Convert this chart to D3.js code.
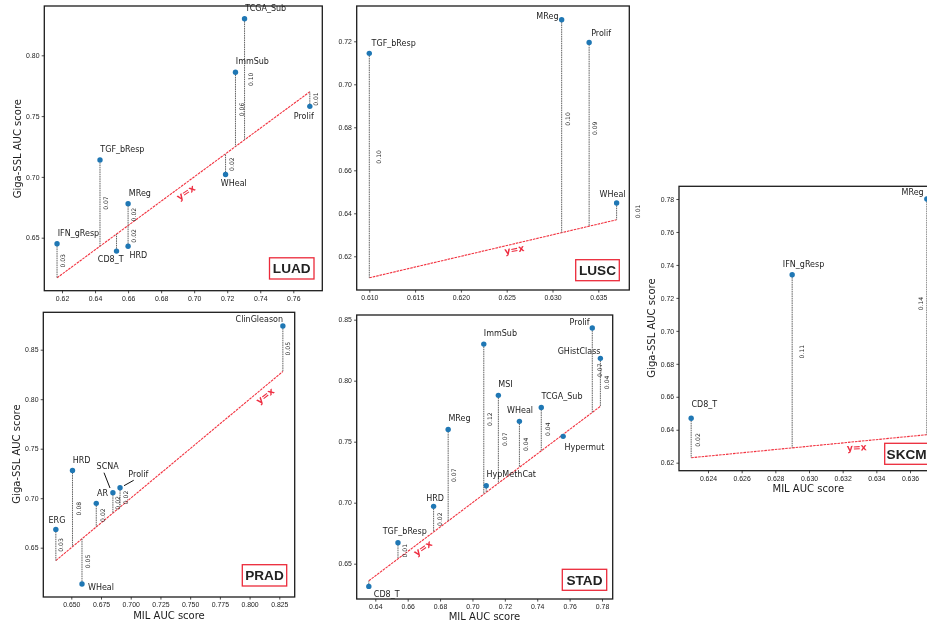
<!DOCTYPE html>
<html>
<head>
<meta charset="utf-8">
<script src="https://cdn.jsdelivr.net/npm/d3@7"></script>
<style>
  html, body { margin: 0; padding: 0; background: #fff; overflow: hidden; }
  svg { display: block; font-family: "DejaVu Sans", sans-serif; filter: blur(0.3px); }
  .axis text { font-size: 6.9px; fill: #1c1c1c; }
  .axis line { stroke: #222; stroke-width: 0.8; }
  .frame { fill: none; stroke: #1c1c1c; stroke-width: 1.3; }
  .gap-line { stroke: #666; stroke-width: 1; stroke-dasharray: 1.6 0.7; }
  .diag { stroke: #f2323f; stroke-width: 1.1; stroke-dasharray: 2.6 0.9; }
  .diag-label { font-size: 9.4px; font-weight: bold; fill: #ee2f42; text-anchor: middle; dominant-baseline: central; }
  .point { fill: #1f77b4; }
  .point-label { font-size: 8px; fill: #1c1c1c; }
  .gap-label { font-size: 6.1px; fill: #2a2a2a; text-anchor: middle; dominant-baseline: central; }
  .leader { stroke: #111; stroke-width: 1; }
  .axis-title { font-size: 10px; fill: #1c1c1c; text-anchor: middle; }
  .badge rect { fill: #fff; stroke: #ec2a3a; stroke-width: 1.3; }
  .badge text { font-family: "Liberation Sans", sans-serif; font-size: 13.6px; font-weight: bold; fill: #222; text-anchor: middle; dominant-baseline: central; }
</style>
</head>
<body>
<svg id="chart" width="927" height="625"></svg>
<script>
// Values
const luadNames = ['TCGA_Sub', 'ImmSub', 'Prolif', 'WHeal', 'TGF_bResp', 'MReg', 'IFN_gResp', 'CD8_T', 'HRD'];
const luadMil = [0.7305, 0.725, 0.77, 0.719, 0.643, 0.66, 0.617, 0.653, 0.66];
const luadGiga = [0.83, 0.786, 0.758, 0.702, 0.714, 0.678, 0.645, 0.639, 0.643];
const luadGaps = ['0.10', '0.06', '0.01', '0.02', '0.07', '0.02', '0.03', null, '0.02'];
const luadXTicks = [0.62, 0.64, 0.66, 0.68, 0.70, 0.72, 0.74, 0.76];
const luadYTicks = [0.65, 0.70, 0.75, 0.80];

const luscNames = ['TGF_bResp', 'MReg', 'Prolif', 'WHeal'];
const luscMil = [0.61, 0.631, 0.634, 0.637];
const luscGiga = [0.7144, 0.73, 0.7195, 0.6448];
const luscGaps = ['0.10', '0.10', '0.09', '0.01'];
const luscXTicks = [0.610, 0.615, 0.620, 0.625, 0.630, 0.635];
const luscYTicks = [0.62, 0.64, 0.66, 0.68, 0.70, 0.72];

const pradNames = ['ClinGleason', 'HRD', 'SCNA', 'Prolif', 'AR', 'ERG', 'WHeal'];
const pradMil = [0.828, 0.651, 0.685, 0.691, 0.671, 0.637, 0.659];
const pradGiga = [0.874, 0.728, 0.7056, 0.7106, 0.6948, 0.6685, 0.6133];
const pradGaps = ['0.05', '0.08', '0.02', '0.02', '0.02', '0.03', '0.05'];
const pradXTicks = [0.650, 0.675, 0.700, 0.725, 0.750, 0.775, 0.800, 0.825];
const pradYTicks = [0.65, 0.70, 0.75, 0.80, 0.85];

const stadNames = ['Prolif', 'GHistClass', 'ImmSub', 'MSI', 'TCGA_Sub', 'WHeal', 'MReg', 'Hypermut', 'HypMethCat', 'HRD', 'TGF_bResp', 'CD8_T'];
const stadMil = [0.774, 0.779, 0.707, 0.716, 0.7425, 0.729, 0.685, 0.756, 0.7085, 0.676, 0.654, 0.636];
const stadGiga = [0.8432, 0.8183, 0.83, 0.788, 0.778, 0.7667, 0.76, 0.7544, 0.7139, 0.697, 0.6672, 0.6314];
const stadGaps = ['0.07', '0.04', '0.12', '0.07', '0.04', '0.04', '0.07', null, null, '0.02', '0.01', null];
const stadXTicks = [0.64, 0.66, 0.68, 0.70, 0.72, 0.74, 0.76, 0.78];
const stadYTicks = [0.65, 0.70, 0.75, 0.80, 0.85];

const skcmNames = ['MReg', 'IFN_gResp', 'CD8_T'];
const skcmMil = [0.637, 0.629, 0.623];
const skcmGiga = [0.78, 0.734, 0.647];
const skcmGaps = ['0.14', '0.11', '0.02'];
const skcmXTicks = [0.624, 0.626, 0.628, 0.630, 0.632, 0.634, 0.636];
const skcmYTicks = [0.62, 0.64, 0.66, 0.68, 0.70, 0.72, 0.74, 0.76, 0.78];

// Define class AucPanel
class AucPanel {
  constructor(_configure, _data) {
    this.configure = _configure;
    this.data = _data;
    this.initApp();
    this.renderApp();
  }

  // Set up scales, frame and axes
  initApp() {
    let app = this;
    const c = app.configure;
    app.xScale = d3.scaleLinear().domain([c.xTicks[0], c.xTicks[c.xTicks.length - 1]]).range(c.xRange);
    app.yScale = d3.scaleLinear().domain([c.yTicks[0], c.yTicks[c.yTicks.length - 1]]).range(c.yRange);
    app.chart = d3.select('#chart').append('g');

    const xAxis = d3.axisBottom(app.xScale).tickValues(c.xTicks).tickFormat(d3.format(c.xFormat)).tickSize(2.6).tickPadding(2.4);
    const yAxis = d3.axisLeft(app.yScale).tickValues(c.yTicks).tickFormat(d3.format('.2f')).tickSize(2.6).tickPadding(2.2);
    app.chart.append('g').attr('class', 'axis').attr('transform', `translate(0,${c.frame.bottom})`).call(xAxis)
      .call(g => g.select('.domain').remove());
    app.chart.append('g').attr('class', 'axis').attr('transform', `translate(${c.frame.left},0)`).call(yAxis)
      .call(g => g.select('.domain').remove());
    app.chart.selectAll('.axis text').attr('font-family', null).attr('font-size', null);
    app.chart.append('rect').attr('class', 'frame')
      .attr('x', c.frame.left).attr('y', c.frame.top)
      .attr('width', c.frame.right - c.frame.left).attr('height', c.frame.bottom - c.frame.top);
  }

  renderApp() {
    let app = this;
    const c = app.configure;
    const x = app.xScale, y = app.yScale;
    const lo = d3.min(app.data, d => d.mil), hi = d3.max(app.data, d => d.mil);

    // y=x reference line
    app.chart.append('line').attr('class', 'diag')
      .attr('x1', x(lo)).attr('y1', y(lo)).attr('x2', x(hi)).attr('y2', y(hi));
    app.chart.append('text').attr('class', 'diag-label')
      .attr('transform', `translate(${c.diag[0]},${c.diag[1]}) rotate(${c.diag[2]})`).text('y=x');

    // Vertical gap from each point down or up to the diagonal
    app.chart.selectAll('.gap-line').data(app.data).join('line').attr('class', 'gap-line')
      .attr('x1', d => x(d.mil)).attr('x2', d => x(d.mil))
      .attr('y1', d => y(d.giga)).attr('y2', d => y(d.mil));

    app.chart.selectAll('.gap-label').data(app.data.filter(d => d.gap)).join('text').attr('class', 'gap-label')
      .attr('transform', d => {
        const off = (c.gapOffsets[d.name] || [5.8, 0]);
        return `translate(${x(d.mil) + off[0]},${(y(d.giga) + y(d.mil)) / 2 + off[1]}) rotate(-90)`;
      })
      .text(d => d.gap);

    app.chart.selectAll('.point').data(app.data).join('circle').attr('class', 'point')
      .attr('r', 2.7).attr('cx', d => x(d.mil)).attr('cy', d => y(d.giga));

    app.chart.selectAll('.point-label').data(app.data).join('text').attr('class', 'point-label')
      .attr('x', d => x(d.mil) + c.labelOffsets[d.name][0])
      .attr('y', d => y(d.giga) + c.labelOffsets[d.name][1])
      .text(d => d.name);

    // Leader lines, only PRAD has them
    (c.leaders || []).forEach(l => {
      app.chart.append('line').attr('class', 'leader')
        .attr('x1', l[0]).attr('y1', l[1]).attr('x2', l[2]).attr('y2', l[3]);
    });

    // Cancer type badge
    const badge = app.chart.append('g').attr('class', 'badge');
    badge.append('rect').attr('x', c.badge[0]).attr('y', c.badge[1])
      .attr('width', c.badge[2] - c.badge[0]).attr('height', c.badge[3] - c.badge[1]);
    badge.append('text').attr('x', (c.badge[0] + c.badge[2]) / 2).attr('y', (c.badge[1] + c.badge[3]) / 2 + 0.5).text(c.title);

    // Axis titles
    if (c.yTitle) {
      app.chart.append('text').attr('class', 'axis-title')
        .attr('transform', `translate(${c.yTitle[0]},${c.yTitle[1]}) rotate(-90)`).text('Giga-SSL AUC score');
    }
    if (c.xTitle) {
      app.chart.append('text').attr('class', 'axis-title')
        .attr('x', c.xTitle[0]).attr('y', c.xTitle[1]).text('MIL AUC score');
    }
  }
}

const zipRows = (names, mil, giga, gaps) => names.map((name, i) => ({ name, mil: mil[i], giga: giga[i], gap: gaps[i] }));

new AucPanel({
  title: 'LUAD', frame: { left: 44.3, right: 322.3, top: 6, bottom: 290.7 },
  xTicks: luadXTicks, yTicks: luadYTicks, xFormat: '.2f',
  xRange: [62, 293.3], yRange: [237.7, 55.3],
  diag: [185.7, 192.3, -33], badge: [269.5, 257.8, 314, 279], yTitle: [20.5, 148.7],
  labelOffsets: { TCGA_Sub: [0.7, -8.3], ImmSub: [0.3, -8.3], Prolif: [-16, 13], WHeal: [-4.7, 11.7], TGF_bResp: [0.3, -8.3], MReg: [0.7, -8], IFN_gResp: [0.7, -8], CD8_T: [-18.7, 11], HRD: [1.3, 12] },
  gapOffsets: {}
}, zipRows(luadNames, luadMil, luadGiga, luadGaps));

new AucPanel({
  title: 'LUSC', frame: { left: 356.7, right: 629.3, top: 6, bottom: 290 },
  xTicks: luscXTicks, yTicks: luscYTicks, xFormat: '.3f',
  xRange: [369.3, 598.3], yRange: [256.3, 41.3],
  diag: [514.3, 249.3, -10], badge: [575.7, 259.7, 619.3, 280.7],
  labelOffsets: { TGF_bResp: [2.3, -7.3], MReg: [-25.3, -1], Prolif: [2, -6], WHeal: [-17, -6.3] },
  gapOffsets: { TGF_bResp: [9.3, -8.7], MReg: [6.3, -7.3], Prolif: [5.7, -6], WHeal: [21, 0] }
}, zipRows(luscNames, luscMil, luscGiga, luscGaps));

new AucPanel({
  title: 'PRAD', frame: { left: 43.3, right: 294.7, top: 312.3, bottom: 597 },
  xTicks: pradXTicks, yTicks: pradYTicks, xFormat: '.3f',
  xRange: [71.3, 279.3], yRange: [547.7, 349.7],
  diag: [265, 395.7, -38], badge: [242.3, 564.7, 286.7, 586], yTitle: [20, 454], xTitle: [169, 618.5],
  labelOffsets: { ClinGleason: [-47.3, -4], HRD: [0.3, -7], SCNA: [-16.3, -23.7], Prolif: [8.3, -11], AR: [0.7, -7.3], ERG: [-7.3, -6.7], WHeal: [6, 6] },
  gapOffsets: { ClinGleason: [5, 0], SCNA: [5, 0], ERG: [4.8, 0] },
  leaders: [[104, 472.7, 110, 488], [133.7, 480.3, 124, 485.7]]
}, zipRows(pradNames, pradMil, pradGiga, pradGaps));

new AucPanel({
  title: 'STAD', frame: { left: 356.7, right: 612.7, top: 315, bottom: 599 },
  xTicks: stadXTicks, yTicks: stadYTicks, xFormat: '.2f',
  xRange: [375.3, 602], yRange: [563.7, 319.7],
  diag: [422.7, 548, -35], badge: [562.3, 569.3, 606.7, 590.3], xTitle: [484.5, 620],
  labelOffsets: { Prolif: [-22.7, -3.3], GHistClass: [-42.7, -4.3], ImmSub: [0, -8.3], MSI: [0, -8.3], TCGA_Sub: [0.3, -8.3], WHeal: [-12.3, -8.3], MReg: [0.3, -8.3], Hypermut: [1.3, 13.3], HypMethCat: [0.3, -8.7], HRD: [-7.3, -5.7], TGF_bResp: [-15.3, -8.7], CD8_T: [5, 10.3] },
  gapOffsets: { Prolif: [7, 0], TGF_bResp: [6.7, 0] }
}, zipRows(stadNames, stadMil, stadGiga, stadGaps));

new AucPanel({
  title: 'SKCM', frame: { left: 679, right: 950, top: 186.3, bottom: 470.7 },
  xTicks: skcmXTicks, yTicks: skcmYTicks, xFormat: '.3f',
  xRange: [708, 910], yRange: [462.7, 199],
  diag: [856.7, 447.3, -3], badge: [884.7, 443.3, 928.5, 464.3], yTitle: [655, 328], xTitle: [808.3, 492],
  labelOffsets: { MReg: [-25.3, -4], IFN_gResp: [-9.3, -7.7], CD8_T: [0.3, -11.7] },
  gapOffsets: { MReg: [-6.7, -13.3], IFN_gResp: [9.7, -9.7], CD8_T: [6.3, 2] }
}, zipRows(skcmNames, skcmMil, skcmGiga, skcmGaps));
</script>
</body>
</html>
